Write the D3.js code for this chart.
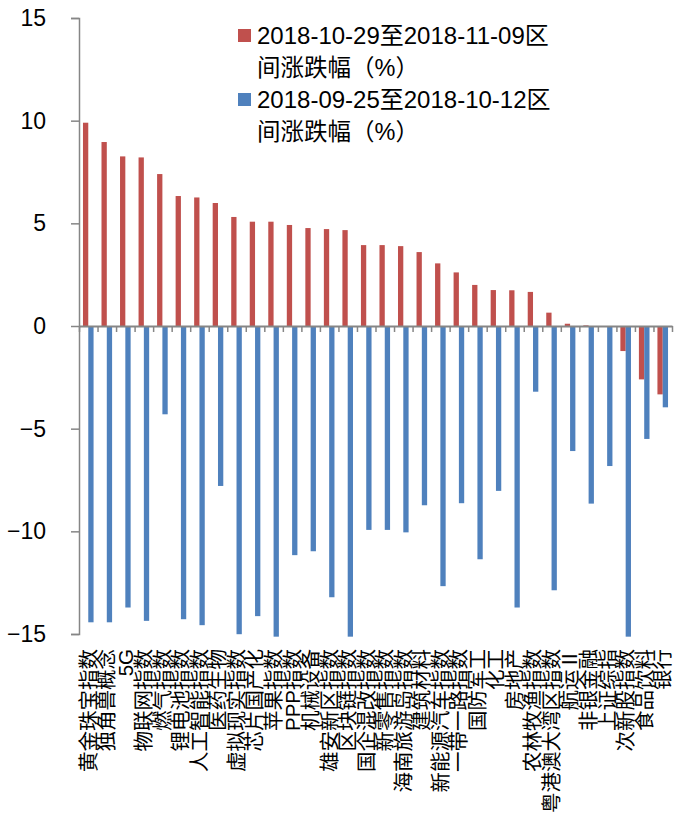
<!DOCTYPE html>
<html>
<head>
<meta charset="utf-8">
<script src="https://cdn.jsdelivr.net/npm/d3@7"></script>
<style>
  html, body { margin: 0; padding: 0; background: #fff; }
  svg { display: block; }
  text { font-family: "Liberation Sans", "Noto Sans CJK SC", sans-serif; fill: #000; }
</style>
</head>
<body>
<svg id="chart" width="685" height="819"></svg>
<script>
// Sector / index names along the x axis
const categories = [
  "黄金珠宝指数", "独角兽概念", "5G", "物联网指数", "燃气指数", "锂电池指数",
  "人工智能指数", "医药生物", "虚拟现实指数", "芯片国产化", "苹果指数", "PPP指数",
  "机械设备", "雄安新区指数", "区块链指数", "国企混改指数", "新零售指数", "海南旅游岛指数",
  "建筑材料", "新能源汽车指数", "一带一路指数", "国防军工", "化工", "房地产",
  "农林牧渔指数", "粤港澳大湾区指数", "航运Ⅱ", "非银金融", "上证综指", "次新股指数",
  "食品饮料", "银行"
];

// 2018-10-29 ~ 2018-11-09 change (%)
const recentChange = [
  9.90, 8.96, 8.26, 8.21, 7.40, 6.33, 6.26, 5.99, 5.31, 5.08, 5.08, 4.92,
  4.77, 4.72, 4.67, 3.94, 3.94, 3.89, 3.60, 3.05, 2.61, 2.00, 1.75, 1.74,
  1.66, 0.65, 0.11, 0.03, 0.00, -1.22, -2.60, -3.33
];

// 2018-09-25 ~ 2018-10-12 change (%)
const earlierChange = [
  -14.43, -14.43, -13.71, -14.36, -4.30, -14.28, -14.57, -7.79, -15.01, -14.13, -15.13, -11.16,
  -10.97, -13.21, -15.13, -9.93, -9.93, -10.05, -8.73, -12.67, -8.63, -11.36, -8.03, -13.71,
  -3.20, -12.87, -6.09, -8.65, -6.82, -15.13, -5.50, -3.96
];

const seriesKeys = ["recent", "earlier"];
const seriesColors = ["#C0504D", "#4F81BD"];
const legendLines = [
  ["2018-10-29至2018-11-09区", "间涨跌幅（%）"],
  ["2018-09-25至2018-10-12区", "间涨跌幅（%）"]
];
const yTicks = [-15, -10, -5, 0, 5, 10, 15];

const rows = categories.map((name, i) => ({
  name,
  recent: recentChange[i],
  earlier: earlierChange[i]
}));

const svg = d3.select("#chart");
const plot = { left: 79, right: 672, top: 18, bottom: 634 };

const x = d3.scaleBand()
  .domain(categories)
  .range([plot.left, plot.right])
  .paddingInner(0.428)
  .paddingOuter(0.214);

const xSub = d3.scaleBand()
  .domain(seriesKeys)
  .range([0, x.bandwidth()]);

const y = d3.scaleLinear()
  .domain([-15, 15])
  .range([plot.bottom, plot.top]);

const color = d3.scaleOrdinal().domain(seriesKeys).range(seriesColors);

// Bars
const groups = svg.append("g").selectAll("g")
  .data(rows)
  .join("g")
  .attr("transform", d => `translate(${x(d.name)},0)`);

groups.selectAll("rect")
  .data(d => seriesKeys.map(k => ({ key: k, value: d[k] })))
  .join("rect")
  .attr("x", d => xSub(d.key))
  .attr("width", xSub.bandwidth())
  .attr("y", d => Math.min(y(d.value), y(0)))
  .attr("height", d => Math.abs(y(d.value) - y(0)))
  .attr("fill", d => color(d.key));

// Y axis
const yAxis = svg.append("g")
  .attr("transform", `translate(${plot.left},0)`)
  .call(d3.axisLeft(y).tickValues(yTicks).tickSize(8).tickPadding(25).tickSizeOuter(8));
yAxis.select(".domain").attr("stroke", "#868686").attr("stroke-width", 1.5);
yAxis.selectAll(".tick line").attr("stroke", "#868686").attr("stroke-width", 1.5);
yAxis.selectAll(".tick text")
  .attr("font-size", 23)
  .attr("font-family", "Liberation Sans, sans-serif")
  .attr("fill", "#000");

// Zero line with category boundary ticks
const boundaries = d3.scaleLinear().domain([0, categories.length]).range([plot.left, plot.right]);
const xAxis = svg.append("g")
  .attr("transform", `translate(0,${y(0)})`)
  .call(d3.axisBottom(boundaries).tickValues(d3.range(categories.length + 1)).tickSize(6).tickSizeOuter(0).tickFormat(""));
xAxis.select(".domain").attr("stroke", "#868686").attr("stroke-width", 2);
xAxis.selectAll(".tick line").attr("stroke", "#868686").attr("stroke-width", 1.5);

// Rotated category labels
svg.append("g").selectAll("text")
  .data(categories)
  .join("text")
  .attr("transform", d => `translate(${x(d) + x.bandwidth() / 2},649) rotate(-90)`)
  .attr("text-anchor", "end")
  .attr("dy", "0.36em")
  .attr("font-size", 20.5)
  .attr("font-family", "Noto Sans CJK SC, sans-serif")
  .text(d => d);

// Legend: swatch plus two wrapped lines per series
const legend = svg.append("g").attr("transform", "translate(238,29)");
legendLines.forEach((lines, i) => {
  const g = legend.append("g").attr("transform", `translate(0,${i * 64})`);
  g.append("rect").attr("width", 13).attr("height", 13).attr("fill", seriesColors[i]);
  lines.forEach((line, j) => {
    g.append("text")
      .attr("x", 19)
      .attr("y", 6.5 + j * 32)
      .attr("dy", "0.36em")
      .attr("font-size", j === 0 ? 24 : 23.5)
      .attr("font-family", j === 0 ? "Liberation Sans, Noto Sans CJK SC, sans-serif" : "Noto Sans CJK SC, sans-serif")
      .text(line);
  });
});
</script>
</body>
</html>
